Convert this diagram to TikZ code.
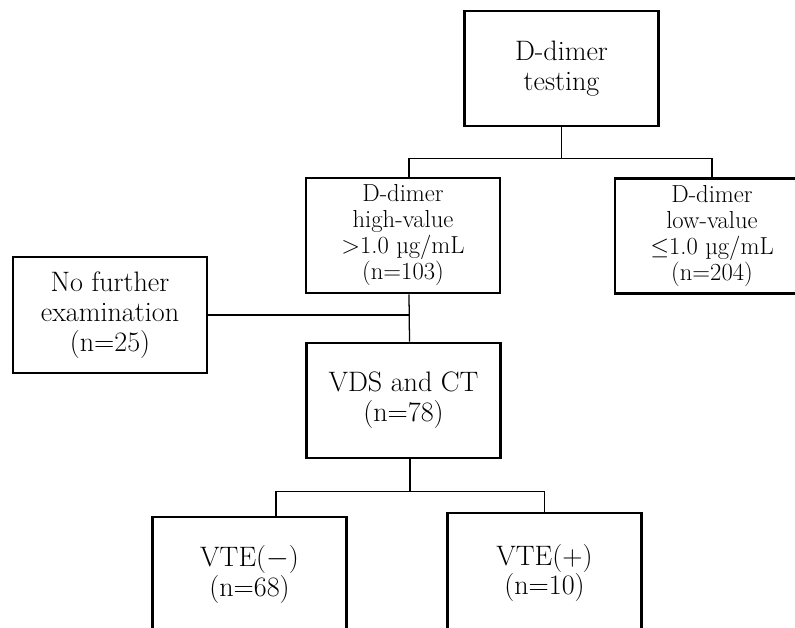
\documentclass[tikz,border=0pt]{standalone}
\usepackage{amsmath,amssymb}
\usepackage{tikz}
\usetikzlibrary{calc}

\begin{document}
\begin{tikzpicture}[x=0.025cm,y=-0.025cm,inner sep=2pt,
    box/.style={draw,line width=1.8pt,align=center,minimum width=4.85cm,
        minimum height=2.875cm,font=\fontsize{20}{21.3}\selectfont},
    smallbox/.style={box,font=\fontsize{17.5}{18.5}\selectfont},
    link/.style={line width=0.9pt}]
        \useasboundingbox[fill=white] (0,0) rectangle (795,628);
        \clip (0,0) rectangle (795,628);
        \draw node [box] (Test) at (561.5,68.5) {D-dimer\\testing};
        \draw node [smallbox] (High) at (403,235.5)
            {D-dimer\\high-value\\>1.0 \symbol{"00B5}g/mL\\(n=103)};
        \draw node [smallbox] (Low) at (712,236)
            {D-dimer\\low-value\\$\leq$1.0 \symbol{"00B5}g/mL\\(n=204)};
        \draw node [box,minimum height=2.9cm] (NoExam) at (110,315)
            {No further\\examination\\(n=25)};
        \draw node [box] (VdsCt) at (403.5,400.5) {VDS and CT\\(n=78)};
        \draw node [box] (VteNeg) at (249.5,574.5) {VTE($-$)\\(n=68)};
        \draw node [box,minimum height=3cm] (VtePos) at (544.5,573)
            {VTE(+)\\(n=10)};
        \draw [link] (Test.south) -- ++(0,31) coordinate (J1);
        \draw [link] ($ (High.north) + (6,0) $) |- (J1) -| (Low.north);
        \draw [link] ($ (High.south) + (6,0) $) -- ($ (VdsCt.north) + (6,0) $);
        \draw [link] (NoExam.east) -- ($ (NoExam.east -| VdsCt.north) + (6,0) $);
        \draw [link] ($ (VdsCt.south) + (6.5,0) $) -- ++(0,32) coordinate (J2);
        \draw [link] ($ (VteNeg.north) + (26.5,0) $) |- (J2) -| (VtePos.north);
    \end{tikzpicture}
\end{document}
